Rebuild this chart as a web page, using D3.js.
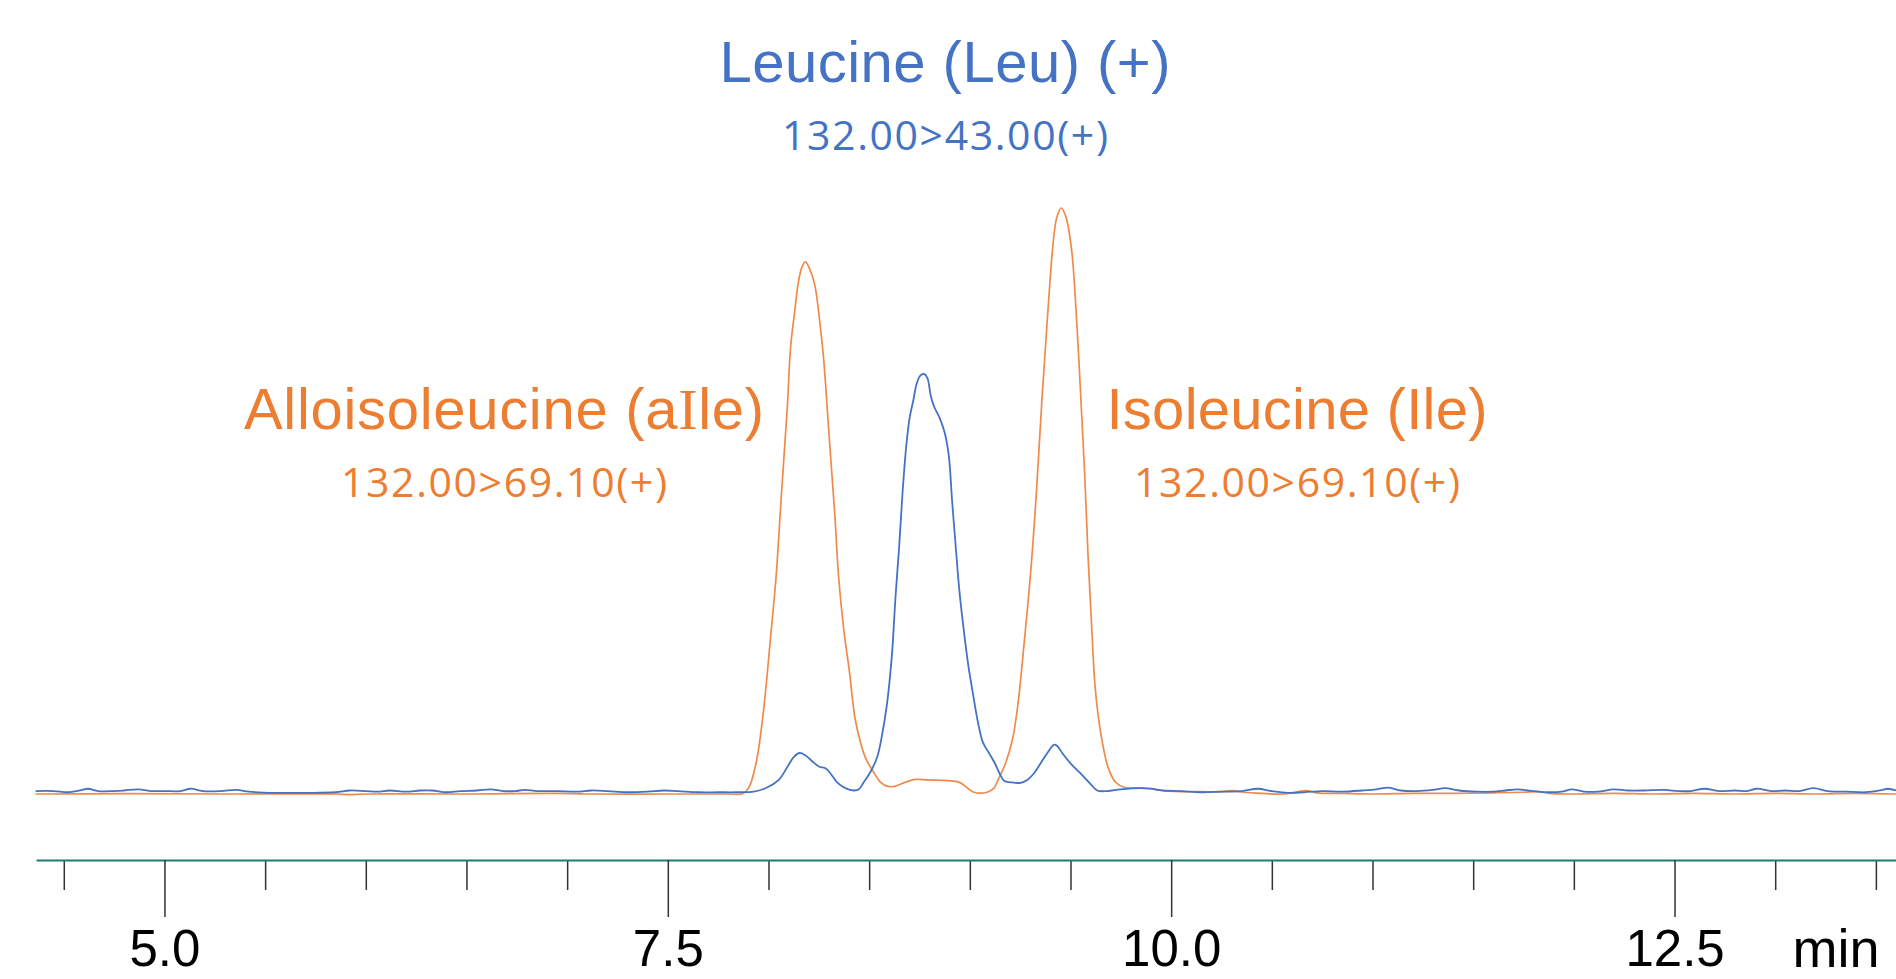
<!DOCTYPE html>
<html>
<head>
<meta charset="utf-8">
<script src="https://cdn.jsdelivr.net/npm/d3@7"></script>
<style>
  body { margin: 0; background: #fff; }
  svg { display: block; }
</style>
</head>
<body>
<svg></svg>
<script>
// chromatogram: 132.00>43.00 (Leu) and 132.00>69.10 (aIle / Ile)
// times in min, intensity in % of the largest peak

let leuTime = [4.36, 4.45, 4.52, 4.58, 4.62, 4.67, 4.75, 4.80, 4.87, 4.93, 5.00, 5.08, 5.13, 5.19, 5.28, 5.36,
  5.42, 5.55, 5.70, 5.85, 5.92, 6.00, 6.06, 6.12, 6.20, 6.27, 6.33, 6.40, 6.47, 6.55, 6.62, 6.68, 6.74, 6.79,
  6.85, 6.95, 7.05, 7.12, 7.20, 7.30, 7.40, 7.48, 7.55, 7.65, 7.75, 7.84,
  7.927, 7.993, 8.051, 8.092, 8.125, 8.155, 8.183, 8.217, 8.250, 8.283, 8.308, 8.341, 8.382, 8.424, 8.449,
  8.473, 8.507, 8.540, 8.561, 8.588, 8.613, 8.631, 8.649, 8.666, 8.684, 8.701, 8.719, 8.736, 8.754, 8.772,
  8.789, 8.807, 8.824, 8.850, 8.874, 8.895, 8.912, 8.930, 8.947, 8.965, 8.991, 9.018, 9.040, 9.065, 9.095,
  9.125, 9.148, 9.172, 9.202, 9.252, 9.285, 9.318, 9.351, 9.385, 9.418, 9.434, 9.459, 9.501, 9.550, 9.600,
  9.633, 9.683, 9.749, 9.848,
  9.90, 9.96, 10.05, 10.15, 10.25, 10.35, 10.43, 10.50, 10.58, 10.66, 10.75, 10.85, 10.95, 11.02, 11.08,
  11.14, 11.22, 11.30, 11.36, 11.43, 11.52, 11.60, 11.66, 11.72, 11.80, 11.88, 11.94, 11.99, 12.05, 12.12,
  12.20, 12.27, 12.35, 12.45, 12.52, 12.58, 12.65, 12.72, 12.80, 12.86, 12.91, 12.98, 13.05, 13.12, 13.19,
  13.26, 13.35, 13.45, 13.52, 13.56, 13.60];

let leuValue = [0.5, 0.5, 0.3, 0.6, 0.9, 0.5, 0.5, 0.6, 0.8, 0.5, 0.5, 0.5, 0.9, 0.5, 0.5, 0.7,
  0.4, 0.2, 0.2, 0.3, 0.6, 0.5, 0.4, 0.6, 0.4, 0.6, 0.6, 0.3, 0.5, 0.6, 0.8, 0.5, 0.5, 0.7,
  0.5, 0.5, 0.4, 0.6, 0.5, 0.3, 0.4, 0.6, 0.5, 0.3, 0.3, 0.3,
  0.4, 1.1, 2.4, 4.5, 6.3, 7.0, 6.6, 5.6, 4.7, 4.4, 3.5, 2.0, 1.0, 0.6, 0.8,
  2.0, 3.8, 6.3, 9.5, 15.2, 23.7, 33.7, 42.2, 51.5, 59.3, 64.2, 67.1, 70.0, 71.4, 71.7,
  71.0, 67.8, 66.0, 64.2, 61.8, 57.9, 50.0, 42.2, 35.1, 29.4, 22.3, 16.6, 12.3, 8.8, 7.0,
  5.2, 3.5, 2.2, 2.0, 1.9, 2.4, 3.5, 5.2, 7.0, 8.4, 8.2, 7.0, 5.2, 3.5, 1.7,
  0.6, 0.5, 0.8, 1.0,
  0.9, 0.6, 0.5, 0.3, 0.4, 0.5, 0.9, 0.5, 0.2, 0.3, 0.5, 0.4, 0.6, 0.8, 1.1,
  0.6, 0.5, 0.7, 1.0, 0.6, 0.4, 0.4, 0.6, 0.8, 0.5, 0.3, 0.4, 0.8, 0.4, 0.4,
  0.8, 0.6, 0.6, 0.7, 0.5, 0.5, 0.9, 0.5, 0.6, 0.5, 0.9, 0.5, 0.6, 0.5, 1.0,
  0.5, 0.4, 0.3, 0.6, 0.9, 0.6];

let ileTime = [4.36, 4.80, 5.30, 5.85, 5.92, 6.00, 6.50, 6.95, 7.10, 7.50, 7.80, 7.870,
  7.901, 7.938, 7.974, 8.010, 8.038, 8.065, 8.093, 8.110, 8.129, 8.147, 8.165, 8.183, 8.202, 8.229, 8.257,
  8.274, 8.302, 8.329, 8.348, 8.374, 8.402, 8.429, 8.457, 8.484, 8.521, 8.557, 8.593, 8.625, 8.672, 8.730,
  8.788, 8.921, 8.954, 9.020, 9.086, 9.120, 9.140, 9.177, 9.213, 9.241, 9.268, 9.304, 9.332, 9.359, 9.387,
  9.414, 9.432, 9.454, 9.478, 9.506, 9.532, 9.551, 9.570, 9.587, 9.606, 9.623, 9.651, 9.687, 9.724, 9.770,
  9.848, 9.90, 9.95, 10.05, 10.15, 10.25, 10.30, 10.36, 10.45, 10.55, 10.62, 10.67, 10.72, 10.85, 11.00,
  11.20, 11.40, 11.60, 11.75, 11.82, 11.88, 12.00, 12.20, 12.40, 12.60, 12.80, 13.00, 13.20, 13.40, 13.60];

let ileValue = [0.0, 0.05, 0.0, 0.0, -0.1, 0.0, 0.0, 0.1, 0.0, 0.0, 0.0, 0.05,
  1.0, 5.2, 13.8, 26.6, 37.2, 51.5, 65.7, 76.3, 82.0, 87.0, 89.8, 90.8, 89.8, 87.0, 79.9,
  74.2, 60.7, 47.9, 37.2, 28.0, 20.9, 13.1, 8.8, 6.0, 3.8, 2.0, 1.3, 1.3, 1.9, 2.5,
  2.4, 2.2, 1.9, 0.3, 0.3, 1.0, 2.4, 5.2, 9.5, 15.9, 25.1, 38.6, 52.2, 67.8, 82.0,
  94.1, 98.4, 100.0, 98.4, 92.7, 79.9, 67.8, 55.0, 40.8, 28.0, 18.0, 10.2, 4.5, 2.0, 1.1,
  1.0, 0.9, 0.6, 0.4, 0.4, 0.4, 0.6, 0.3, 0.1, 0.0, 0.3, 0.6, 0.2, 0.1, 0.0,
  0.1, 0.1, 0.2, 0.3, 0.4, 0.1, 0.0, 0.1, 0.0, 0.1, 0.0, 0.1, 0.0, 0.1, 0.0];

let majorTicks = [5.0, 7.5, 10.0, 12.5];
let minorTicks = [4.5, 5.5, 6.0, 6.5, 7.0, 8.0, 8.5, 9.0, 9.5, 10.5, 11.0, 11.5, 12.0, 13.0, 13.5];

let labels = [
  { name: ['Leucine (Leu) (+)'], mrm: '132.00>43.00(+)', x: 945, y: 82, w: 451, color: '#4472C4' },
  { name: ['Alloisoleucine (a', 'I', 'le)'], mrm: '132.00>69.10(+)', x: 504, y: 429, w: 520, color: '#ED7D31' },
  { name: ['Isoleucine (Ile)'], mrm: '132.00>69.10(+)', x: 1297, y: 429, w: 381, color: '#ED7D31' }
];

let width = 1896;
let height = 979;
let axisY = 860;

let xScale = d3.scaleLinear()
  .domain([4.362, 13.6])
  .range([36, 1896]);

let yScale = d3.scaleLinear()
  .domain([0, 100])
  .range([794, 208]);

let svg = d3.select('svg')
  .attr('width', width)
  .attr('height', height)
  .style('background', '#fff');

let line = d3.line()
  .x(d => xScale(d[0]))
  .y(d => yScale(d[1]))
  .curve(d3.curveCatmullRom.alpha(0.5));

svg.append('path')
  .datum(d3.zip(ileTime, ileValue))
  .attr('d', line)
  .attr('fill', 'none')
  .attr('stroke', '#F0894A')
  .attr('stroke-width', 1.7);

svg.append('path')
  .datum(d3.zip(leuTime, leuValue))
  .attr('d', line)
  .attr('fill', 'none')
  .attr('stroke', '#4472C4')
  .attr('stroke-width', 1.8);

// minor ticks first, then the labelled ones
let minorAxis = d3.axisBottom(xScale)
  .tickValues(minorTicks)
  .tickSize(30)
  .tickSizeOuter(0)
  .tickFormat('');

let majorAxis = d3.axisBottom(xScale)
  .tickValues(majorTicks)
  .tickSize(57)
  .tickSizeOuter(0)
  .tickFormat(d3.format('.1f'));

svg.append('g')
  .attr('transform', 'translate(0,' + axisY + ')')
  .call(minorAxis)
  .call(g => g.select('.domain').remove())
  .call(g => g.selectAll('.tick line').attr('stroke', '#333').attr('stroke-width', 1.5));

svg.append('g')
  .attr('transform', 'translate(0,' + axisY + ')')
  .call(majorAxis)
  .call(g => g.select('.domain').attr('stroke', '#1F7B78').attr('stroke-width', 2.2))
  .call(g => g.selectAll('.tick line').attr('stroke', '#333').attr('stroke-width', 1.5))
  .call(g => g.selectAll('.tick text')
    .attr('y', 0)
    .attr('dy', 0)
    .attr('transform', 'translate(0,106)')
    .attr('fill', '#000')
    .style('font-family', '"Liberation Sans", Arial, sans-serif')
    .style('font-size', '51px'));

svg.append('text')
  .attr('x', 1836)
  .attr('y', 967)
  .style('text-anchor', 'middle')
  .style('font-family', '"Liberation Sans", Arial, sans-serif')
  .style('font-size', '54px')
  .attr('fill', '#000')
  .text('min');

let peakLabels = svg.selectAll('.peak-label')
  .data(labels)
  .enter()
  .append('g')
  .attr('class', 'peak-label');

peakLabels.append('text')
  .attr('x', d => d.x)
  .attr('y', d => d.y)
  .attr('textLength', d => d.w)
  .style('text-anchor', 'middle')
  .style('font-family', '"Liberation Sans", Arial, sans-serif')
  .style('font-size', '58px')
  .attr('fill', d => d.color)
  .selectAll('tspan')
  .data(d => d.name)
  .enter()
  .append('tspan')
  .style('font-family', t => t === 'I' ? '"Liberation Serif", serif' : null)
  .text(t => t);

peakLabels.append('text')
  .attr('x', d => d.x)
  .attr('y', d => d.y + 68)
  .attr('textLength', 326)
  .style('text-anchor', 'middle')
  .style('font-family', '"Open Sans", sans-serif')
  .style('font-size', '41px')
  .attr('fill', d => d.color)
  .text(d => d.mrm);
</script>
</body>
</html>
